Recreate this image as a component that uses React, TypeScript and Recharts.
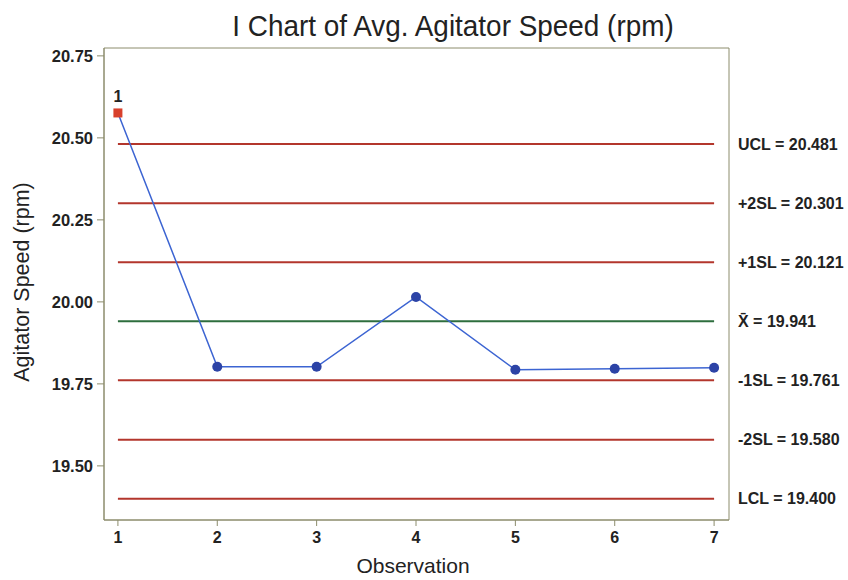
import React from 'react';
import { LineChart, Line, XAxis, YAxis, ReferenceLine, ReferenceArea } from 'recharts';

const observations = [1, 2, 3, 4, 5, 6, 7];
const agitatorSpeed = [20.576, 19.802, 19.802, 20.015, 19.793, 19.796, 19.799];
const limitKeys = ['ucl', 'p2sl', 'p1sl', 'xbar', 'm1sl', 'm2sl', 'lcl'];
const limitLabels = ['UCL = 20.481', '+2SL = 20.301', '+1SL = 20.121', 'X\u0304 = 19.941', '-1SL = 19.761', '-2SL = 19.580', 'LCL = 19.400'];
const limitValues = [20.481, 20.301, 20.121, 19.941, 19.761, 19.58, 19.4];
const yTicks = [19.5, 19.75, 20.0, 20.25, 20.5, 20.75];
const xTicks = [1, 2, 3, 4, 5, 6, 7];

const data = observations.map((o, i) => {
  const row: any = { obs: o, speed: agitatorSpeed[i] };
  limitKeys.forEach((k, j) => (row[k] = limitValues[j]));
  return row;
});

const FONT = '"Liberation Sans", Arial, sans-serif';
const LIMIT_RED = '#b3362c';
const CENTER_GREEN = '#2e6e3e';
const AXIS = '#8c8c6c';

const renderDot = (props: any) => {
  const { cx, cy, index } = props;
  if (index === 0) {
    return (
      <g key={`d${index}`}>
        <rect x={cx - 4.5} y={cy - 4.5} width={9} height={9} fill="#d8402c" />
        <text x={cx} y={cy - 11} textAnchor="middle" style={{ fontFamily: FONT, fontSize: 16, fontWeight: 'bold' }} fill="#222" stroke="none">1</text>
      </g>
    );
  }
  return <circle key={`d${index}`} cx={cx} cy={cy} r={5} fill="#2c43a6" />;
};

export default function App() {
  return (
    <div style={{ position: 'absolute', left: 0, top: 0, width: 848, height: 580, background: '#fff', overflow: 'hidden' }}>
      <div style={{ position: 'absolute', left: 453, top: 26, transform: 'translate(-50%, -50%) scale(0.93, 1)', whiteSpace: 'nowrap', fontFamily: FONT, fontSize: 30, color: '#222' }}>
        I Chart of Avg. Agitator Speed (rpm)
      </div>
      <div style={{ position: 'absolute', left: 22, top: 282, transform: 'translate(-50%, -50%) rotate(-90deg)', whiteSpace: 'nowrap', fontFamily: FONT, fontSize: 21.5, color: '#222' }}>
        Agitator Speed (rpm)
      </div>
      <div style={{ position: 'absolute', left: 413, top: 566, transform: 'translate(-50%, -50%)', whiteSpace: 'nowrap', fontFamily: FONT, fontSize: 21, lineHeight: '24px', color: '#222' }}>
        Observation
      </div>
      <LineChart width={848} height={580} data={data} margin={{ top: 48, right: 119, bottom: 0, left: 44 }}>
        <XAxis
          dataKey="obs"
          type="number"
          domain={[0.86, 7.15]}
          ticks={xTicks}
          allowDataOverflow
          stroke={AXIS}
          tickSize={6}
          tickMargin={6}
          height={60}
          tick={{ fontFamily: FONT, fontSize: 16, fontWeight: 'bold', fill: '#222' }}
        />
        <YAxis
          type="number"
          domain={[19.335, 20.774]}
          ticks={yTicks}
          allowDataOverflow
          stroke={AXIS}
          tickSize={7}
          tickMargin={4}
          width={60}
          tickFormatter={(v: number) => v.toFixed(2)}
          tick={{ fontFamily: FONT, fontSize: 16.5, fontWeight: 'bold', fill: '#222' }}
        />
        <ReferenceArea x1={0.86} x2={7.15} y1={19.335} y2={20.774} fill="none" stroke={AXIS} strokeWidth={1} ifOverflow="extendDomain" />
        {limitKeys.map((k) => (
          <Line
            key={k}
            dataKey={k}
            stroke={k === 'xbar' ? CENTER_GREEN : LIMIT_RED}
            strokeWidth={2}
            dot={false}
            activeDot={false}
            isAnimationActive={false}
          />
        ))}
        {limitValues.map((v, j) => (
          <ReferenceLine
            key={`lbl${j}`}
            y={v}
            stroke="none"
            label={{ value: limitLabels[j], position: 'right', offset: 9, fontFamily: FONT, fontSize: 16, fontWeight: 'bold', fill: '#222' }}
          />
        ))}
        <Line
          dataKey="speed"
          stroke="#3c64d2"
          strokeWidth={1.5}
          dot={renderDot}
          activeDot={false}
          isAnimationActive={false}
        />
      </LineChart>
    </div>
  );
}
